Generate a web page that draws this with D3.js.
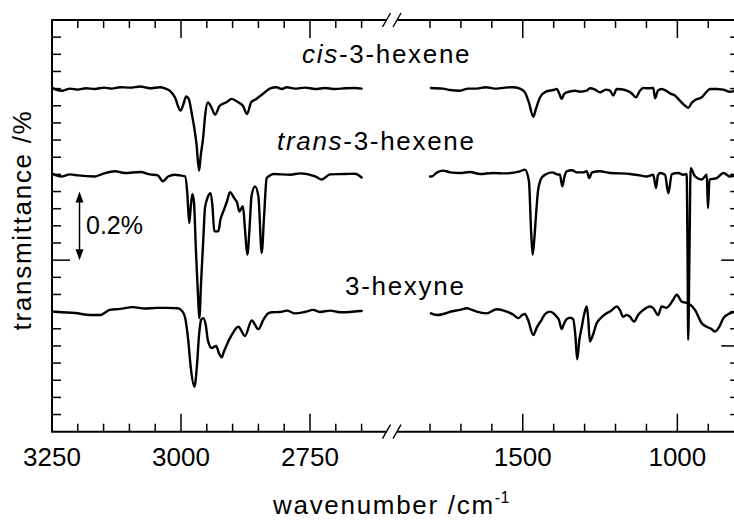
<!DOCTYPE html>
<html><head><meta charset="utf-8">
<script src="https://cdn.jsdelivr.net/npm/d3@7"></script>
<style>body{margin:0;background:#fff} svg{display:block}</style>
</head><body>
<svg id="c" width="734" height="520"></svg>
<script>
// ---- data: [wavenumber (cm-1), transmittance change (%)] relative to each trace's offset ----
const cisLeft = [[3250,0.003],[3240,-0.004],[3230,-0.006],[3215,0.000],[3200,-0.003],[3184,0.001],[3167,-0.001],[3149,0.003],[3134,0.000],[3118,0.004],[3099,0.003],[3079,0.006],[3060,0.001],[3041,0.004],[3030,0.000],[3022,-0.006],[3012,-0.025],[3001,-0.064],[2995,-0.044],[2990,-0.023],[2985,-0.030],[2979,-0.074],[2974,-0.117],[2970,-0.161],[2965,-0.239],[2962,-0.198],[2957,-0.142],[2953,-0.075],[2948,-0.040],[2941,-0.055],[2934,-0.076],[2925,-0.050],[2912,-0.040],[2902,-0.030],[2889,-0.040],[2880,-0.050],[2872,-0.074],[2864,-0.040],[2854,-0.030],[2841,-0.015],[2828,0.000],[2815,0.004],[2805,-0.001],[2795,0.004],[2779,0.000],[2760,0.003],[2740,-0.001],[2721,0.002],[2702,-0.001],[2682,0.001],[2663,0.002],[2650,0.000]];
const cisRight = [[1797,0.002],[1758,0.000],[1735,-0.004],[1703,-0.006],[1677,0.000],[1649,0.000],[1619,0.004],[1590,0.000],[1557,0.003],[1532,0.004],[1509,0.000],[1493,-0.011],[1480,-0.041],[1466,-0.082],[1457,-0.058],[1444,-0.025],[1425,-0.009],[1401,-0.004],[1390,-0.001],[1383,-0.012],[1374,-0.030],[1367,-0.017],[1358,-0.011],[1331,-0.006],[1315,-0.009],[1293,-0.006],[1283,0.001],[1266,-0.003],[1250,-0.011],[1231,-0.003],[1218,-0.006],[1207,-0.020],[1196,-0.001],[1182,-0.002],[1164,-0.006],[1150,-0.012],[1134,-0.025],[1121,-0.006],[1110,0.002],[1095,0.001],[1078,0.002],[1072,-0.028],[1063,-0.006],[1051,-0.001],[1037,-0.006],[1024,-0.014],[1008,-0.020],[992,-0.035],[975,-0.050],[965,-0.056],[953,-0.041],[940,-0.032],[921,-0.025],[905,-0.009],[894,-0.001],[873,-0.001],[852,-0.003],[830,-0.009],[801,-0.003]];
const transLeft = [[3250,0.002],[3231,-0.006],[3215,0.000],[3200,-0.003],[3167,-0.006],[3149,0.003],[3128,0.009],[3109,0.004],[3079,0.007],[3060,0.000],[3045,-0.003],[3035,-0.020],[3025,-0.006],[3012,-0.001],[3002,-0.003],[2992,-0.006],[2988,-0.050],[2984,-0.142],[2981,-0.093],[2978,-0.058],[2975,-0.079],[2971,-0.224],[2966.5,-0.370],[2964.5,-0.419],[2961,-0.312],[2957,-0.195],[2953.5,-0.098],[2949,-0.070],[2942.5,-0.055],[2939,-0.093],[2935.5,-0.166],[2927.7,-0.166],[2923.4,-0.131],[2918,-0.108],[2911,-0.079],[2905,-0.052],[2897,-0.069],[2891,-0.084],[2887,-0.108],[2880,-0.093],[2876,-0.160],[2871.5,-0.234],[2867,-0.152],[2863.4,-0.064],[2856.6,-0.035],[2850,-0.064],[2843.6,-0.229],[2839,-0.122],[2834,-0.011],[2827.5,-0.003],[2821,0.001],[2788,-0.001],[2769,0.003],[2740,-0.006],[2727,-0.015],[2711,0.000],[2682,0.001],[2663,0.002],[2650,-0.009]];
const transRight = [[1800,-0.006],[1795,-0.006],[1777,0.006],[1758,0.011],[1735,0.006],[1703,0.004],[1671,0.007],[1638,0.001],[1596,0.004],[1557,0.003],[1509,0.009],[1493,0.014],[1480,-0.020],[1473,-0.166],[1468,-0.234],[1462,-0.181],[1457,-0.117],[1451,-0.050],[1444,-0.020],[1438,-0.009],[1428,-0.001],[1405,0.006],[1389,0.000],[1380,-0.001],[1372,-0.035],[1365,-0.006],[1358,0.009],[1341,0.012],[1325,0.006],[1305,0.006],[1293,0.009],[1285,-0.011],[1276,0.006],[1250,0.009],[1218,0.004],[1186,0.003],[1153,0.001],[1121,-0.003],[1099,-0.006],[1078,-0.001],[1069,-0.040],[1063,-0.003],[1056,0.004],[1040,-0.001],[1029,-0.055],[1018,0.001],[997,0.004],[981,-0.001],[970,0.001],[967,-0.239],[965,-0.482],[961,-0.239],[957,0.018],[943,-0.006],[921,-0.015],[905,-0.001],[901,-0.098],[896,-0.015],[873,-0.011],[851,0.004],[830,-0.006],[801,0.000]];
const hexyneLeft = [[3250,0.000],[3231,-0.002],[3205,-0.004],[3176,-0.010],[3157,-0.010],[3138,0.005],[3118,0.008],[3093,0.013],[3070,0.009],[3047,0.011],[3027,0.011],[3006,0.010],[2998,0.002],[2992,-0.018],[2986,-0.083],[2981,-0.164],[2974,-0.219],[2969,-0.155],[2965,-0.068],[2961,-0.024],[2957,-0.019],[2952,-0.039],[2948,-0.083],[2940.5,-0.106],[2932,-0.100],[2926,-0.123],[2921,-0.133],[2917,-0.117],[2911.4,-0.097],[2901.7,-0.068],[2889,-0.044],[2876,-0.071],[2863,-0.026],[2850,-0.051],[2840.5,-0.024],[2831,-0.005],[2824,-0.002],[2808,-0.001],[2795,0.003],[2779,-0.005],[2760,-0.001],[2744,0.005],[2731,-0.001],[2711,0.003],[2692,-0.002],[2672,-0.001],[2653,0.002],[2650,0.002]];
const hexyneRight = [[1797,-0.005],[1777,-0.010],[1757,-0.007],[1729,0.001],[1703,0.005],[1681,0.010],[1664,0.005],[1649,0.000],[1617,-0.005],[1584,0.007],[1552,0.000],[1532,-0.008],[1514,-0.019],[1502,-0.010],[1493,-0.007],[1483,-0.024],[1466,-0.068],[1454,-0.045],[1439,-0.024],[1428,-0.007],[1412,0.000],[1402,-0.004],[1390,-0.015],[1383,-0.024],[1374,-0.051],[1367,-0.036],[1358,-0.022],[1347,-0.018],[1337,-0.022],[1330,-0.068],[1324,-0.139],[1317,-0.083],[1309,-0.044],[1302,-0.010],[1293,0.015],[1288,-0.024],[1283,-0.087],[1273,-0.068],[1261,-0.034],[1247,-0.018],[1229,-0.005],[1215,0.002],[1196,0.015],[1186,0.005],[1175,-0.015],[1164,-0.010],[1153,-0.015],[1140,-0.029],[1127,-0.010],[1110,0.005],[1089,0.015],[1078,0.010],[1062,-0.010],[1051,0.015],[1035,0.011],[1024,0.020],[1014,0.034],[1002,0.049],[986,0.029],[965,0.024],[943,0.005],[921,-0.034],[905,-0.044],[891,-0.050],[878,-0.058],[865,-0.045],[851,-0.019],[830,-0.005],[814,0.000],[801,0.005]];

const seriesNames = ["cis", "trans", "hexyne"];
const offsets = [1.0, 0.75, 0.35];           // vertical offset of each trace (%)
const xDomain = [3250, 2650, 1800, 800];       // broken axis: 3250-2650 | 1800-800
const leftTicks = d3.range(3200, 2649, -50);
const rightTicks = d3.range(1800, 899, -100);
const majorXTicks = [3000, 2750, 1500, 1000];
const xTickLabels = [3250, 3000, 2750, 1500, 1000];
const yTicks = d3.range(1, 24).map(i => +(i * 0.05).toFixed(2));
const leftMajorY = [0.5];
const rightMajorY = [0.25, 0.5];
const scaleBar = [0.5, 0.7];   // 0.2 % bar

// ---- layout ----
const L = 52, T = 20, R = 739.2, B = 431.7;
const x = d3.scaleLinear().domain(xDomain).range([L, 361.6, 430, R]);
const y = d3.scaleLinear().domain([0, 1.2]).range([B, T]);
const FONT = "'Liberation Sans', Arial, Helvetica, sans-serif";

const svg = d3.select("#c");
svg.append("rect").attr("width", 734).attr("height", 520).attr("fill", "#fff");

svg.append("defs").append("clipPath").attr("id", "clip")
  .append("rect").attr("x", L).attr("y", T).attr("width", R - L).attr("height", B - T);

// spectra
const line = d3.line().x(d => x(d[0])).y(d => y(d[1])).curve(d3.curveMonotoneX);
const segs = [[cisLeft, cisRight], [transLeft, transRight], [hexyneLeft, hexyneRight]];
const gS = svg.append("g").attr("clip-path", "url(#clip)");
segs.forEach((pair, i) => {
  pair.forEach(seg => {
    gS.append("path")
      .datum(seg.map(d => [d[0], offsets[i] + d[1]]))
      .attr("d", line)
      .attr("fill", "none").attr("stroke", "#000")
      .attr("stroke-width", 2.4).attr("stroke-linejoin", "round").attr("stroke-linecap", "round");
  });
});

// frame
const gA = svg.append("g").attr("stroke", "#000").attr("fill", "none");
const brk1 = 386.5, brk2 = 397;
gA.append("line").attr("x1", L).attr("x2", L).attr("y1", T).attr("y2", B).attr("stroke-width", 2);
gA.append("line").attr("x1", R).attr("x2", R).attr("y1", T).attr("y2", B).attr("stroke-width", 2);
[T, B].forEach(yy => {
  gA.append("line").attr("x1", L - 1).attr("x2", brk1).attr("y1", yy).attr("y2", yy).attr("stroke-width", 2);
  gA.append("line").attr("x1", brk2).attr("x2", R + 1).attr("y1", yy).attr("y2", yy).attr("stroke-width", 2);
  [brk1, brk2].forEach(cx => {
    gA.append("line").attr("x1", cx - 4).attr("y1", yy + 7).attr("x2", cx + 4).attr("y2", yy - 7).attr("stroke-width", 1.4);
  });
});

// x ticks
const xt = leftTicks.concat(rightTicks);
xt.forEach(v => {
  const len = majorXTicks.includes(v) ? 18 : 8;
  const px = x(v);
  gA.append("line").attr("x1", px).attr("x2", px).attr("y1", B).attr("y2", B - len).attr("stroke-width", 1.5);
  gA.append("line").attr("x1", px).attr("x2", px).attr("y1", T).attr("y2", T + len).attr("stroke-width", 1.5);
});
// y ticks
yTicks.forEach(v => {
  const py = y(v);
  const ll = leftMajorY.includes(v) ? 18 : 9;
  const rl = rightMajorY.includes(v) ? 18 : 9;
  gA.append("line").attr("x1", L).attr("x2", L + ll).attr("y1", py).attr("y2", py).attr("stroke-width", 1.5);
  gA.append("line").attr("x1", R).attr("x2", R - rl).attr("y1", py).attr("y2", py).attr("stroke-width", 1.5);
});

// tick labels
const gT = svg.append("g").attr("font-family", FONT).attr("fill", "#000");
xTickLabels.forEach(v => {
  gT.append("text").attr("x", x(v)).attr("y", 466).attr("text-anchor", "middle")
    .attr("font-size", 26).text(v);
});

// axis titles
gT.append("text").attr("transform", "translate(31,220) rotate(-90)")
  .attr("text-anchor", "middle").attr("font-size", 26).attr("letter-spacing", 1.7)
  .text("transmittance /%");
const xl = gT.append("text").attr("x", 273).attr("y", 514).attr("font-size", 26).attr("letter-spacing", 1.7);
xl.append("tspan").text("wavenumber /cm");
xl.append("tspan").attr("font-size", 16).attr("dy", -11).attr("letter-spacing", 0.5).text("-1");

// trace labels
const labelData = [
  {it: "cis", rest: "-3-hexene", x: 302, y: 62.5},
  {it: "trans", rest: "-3-hexene", x: 277, y: 150},
  {it: "", rest: "3-hexyne", x: 345, y: 295}
];
labelData.forEach(d => {
  const t = gT.append("text").attr("x", d.x).attr("y", d.y).attr("font-size", 26).attr("letter-spacing", 1.7);
  if (d.it) t.append("tspan").attr("font-style", "italic").text(d.it);
  t.append("tspan").text(d.rest);
});

// 0.2 % scale bar
const ax = 79.5, y0 = y(scaleBar[0]), y1 = y(scaleBar[1]);
svg.append("line").attr("x1", ax).attr("x2", ax).attr("y1", y1 + 6).attr("y2", y0 - 6)
  .attr("stroke", "#000").attr("stroke-width", 1.5);
svg.append("path").attr("d", `M${ax},${y1} L${ax - 4},${y1 + 11} L${ax + 4},${y1 + 11} Z`).attr("fill", "#000");
svg.append("path").attr("d", `M${ax},${y0} L${ax - 4},${y0 - 11} L${ax + 4},${y0 - 11} Z`).attr("fill", "#000");
gT.append("text").attr("x", 86).attr("y", 234).attr("font-size", 25).text("0.2%");
</script>
</body></html>
